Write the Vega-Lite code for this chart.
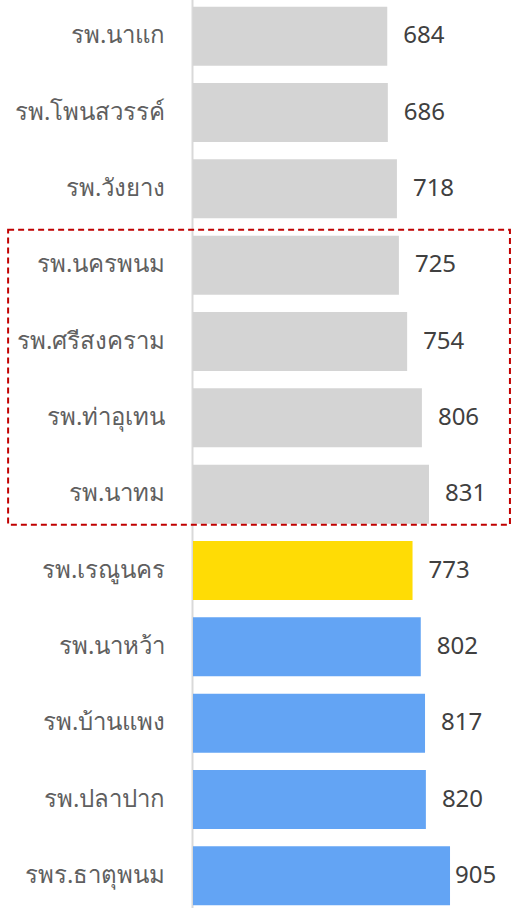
{
  "$schema": "https://vega.github.io/schema/vega-lite/v6.json",
  "autosize": {"type": "none"},
  "padding": {"left": 193, "top": -2, "right": 36, "bottom": 0},
  "width": 284,
  "height": 916,
  "config": {"view": {"stroke": null}, "font": "Noto Sans"},
  "datasets": {
    "bars": [
      {"name": "รพ.นาแก", "value": 684, "group": "other"},
      {"name": "รพ.โพนสวรรค์", "value": 686, "group": "other"},
      {"name": "รพ.วังยาง", "value": 718, "group": "other"},
      {"name": "รพ.นครพนม", "value": 725, "group": "other"},
      {"name": "รพ.ศรีสงคราม", "value": 754, "group": "other"},
      {"name": "รพ.ท่าอุเทน", "value": 806, "group": "other"},
      {"name": "รพ.นาทม", "value": 831, "group": "other"},
      {"name": "รพ.เรณูนคร", "value": 773, "group": "self"},
      {"name": "รพ.นาหว้า", "value": 802, "group": "peer"},
      {"name": "รพ.บ้านแพง", "value": 817, "group": "peer"},
      {"name": "รพ.ปลาปาก", "value": 820, "group": "peer"},
      {"name": "รพร.ธาตุพนม", "value": 905, "group": "peer"}
    ],
    "box": [
      {"from": "รพ.นครพนม", "to": "รพ.นาทม", "xmin": -651, "xmax": 1116}
    ]
  },
  "layer": [
    {
      "data": {"name": "bars"},
      "mark": {"type": "bar", "size": 59},
      "encoding": {
        "y": {
          "field": "name", "type": "nominal",
          "scale": {
            "domain": ["รพ.นาแก", "รพ.โพนสวรรค์", "รพ.วังยาง", "รพ.นครพนม", "รพ.ศรีสงคราม", "รพ.ท่าอุเทน", "รพ.นาทม", "รพ.เรณูนคร", "รพ.นาหว้า", "รพ.บ้านแพง", "รพ.ปลาปาก", "รพร.ธาตุพนม"],
            "paddingInner": 0.227, "paddingOuter": 0.1135
          },
          "axis": {
            "title": null, "ticks": false, "labelFontSize": 24, "labelColor": "#5f5f5f",
            "labelPadding": 27, "domainColor": "#d9d9d9", "domainWidth": 2, "offset": 1,
            "labelLimit": 200, "labelFont": "Noto Sans"
          }
        },
        "x": {"field": "value", "type": "quantitative", "scale": {"domain": [0, 1000]}, "axis": null},
        "color": {
          "field": "group", "type": "nominal",
          "scale": {"domain": ["other", "self", "peer"], "range": ["#d4d4d4", "#ffdc05", "#63a4f4"]},
          "legend": null
        }
      }
    },
    {
      "data": {"name": "bars"},
      "transform": [{"filter": "datum.value < 900"}],
      "mark": {"type": "text", "align": "left", "baseline": "middle", "dx": 16, "fontSize": 24, "color": "#404040"},
      "encoding": {
        "y": {"field": "name", "type": "nominal"},
        "x": {"field": "value", "type": "quantitative"},
        "text": {"field": "value", "type": "quantitative"}
      }
    },
    {
      "data": {"name": "bars"},
      "transform": [{"filter": "datum.value >= 900"}],
      "mark": {"type": "text", "align": "left", "baseline": "middle", "dx": 5, "fontSize": 24, "color": "#404040"},
      "encoding": {
        "y": {"field": "name", "type": "nominal"},
        "x": {"field": "value", "type": "quantitative"},
        "text": {"field": "value", "type": "quantitative"}
      }
    },
    {
      "data": {"name": "box"},
      "mark": {"type": "rect", "filled": false, "stroke": "#c00000", "strokeWidth": 2, "strokeDash": [6, 4]},
      "encoding": {
        "y": {"field": "from", "type": "nominal", "bandPosition": -0.1},
        "y2": {"field": "to", "bandPosition": 1.02},
        "x": {"field": "xmin", "type": "quantitative"},
        "x2": {"field": "xmax"}
      }
    }
  ]
}
